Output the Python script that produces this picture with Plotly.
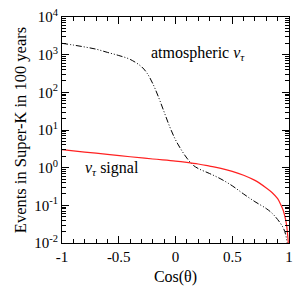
import plotly.graph_objects as go
import numpy as np

cos_atm = [-1.0, -0.9, -0.8, -0.7, -0.6, -0.5, -0.4, -0.3, -0.25, -0.2, -0.15, -0.1, -0.05, 0.0, 0.05, 0.1, 0.15, 0.2, 0.3, 0.4, 0.5, 0.6, 0.7, 0.8, 0.85, 0.9, 0.95, 0.97, 0.98, 0.99]
atm_vals = [2000, 1800, 1600, 1400, 1150, 950, 750, 480, 320, 170, 75, 30, 12, 5.5, 3.0, 1.8, 1.2, 0.95, 0.7, 0.5, 0.33, 0.2, 0.125, 0.082, 0.062, 0.042, 0.025, 0.017, 0.012, 0.008]

cos_sig = [-1.0, -0.8, -0.6, -0.4, -0.2, 0.0, 0.1, 0.2, 0.3, 0.4, 0.5, 0.6, 0.7, 0.8, 0.85, 0.9, 0.93, 0.95, 0.97, 0.98, 0.99, 0.995]
sig_vals = [3.0, 2.6, 2.25, 1.95, 1.7, 1.5, 1.38, 1.25, 1.1, 0.96, 0.8, 0.63, 0.46, 0.29, 0.22, 0.15, 0.1, 0.072, 0.042, 0.028, 0.014, 0.009]

ytick_vals = [1e-2, 1e-1, 1, 10, 100, 1000, 1e4]
ytick_text = ["10<sup>-2</sup>", "10<sup>-1</sup>", "10<sup>0</sup>", "10<sup>1</sup>", "10<sup>2</sup>", "10<sup>3</sup>", "10<sup>4</sup>"]
xtick_vals = [-1, -0.5, 0, 0.5, 1]
xtick_text = ["-1", "-0.5", "0", "0.5", "1"]

font = "Liberation Serif, DejaVu Serif, serif"

fig = go.Figure()
fig.add_trace(go.Scatter(x=cos_atm, y=atm_vals, mode="lines",
                         line=dict(color="black", width=1, dash="6px,2px,1px,2px,1px,2px", shape="spline"),
                         showlegend=False, hoverinfo="skip"))
fig.add_trace(go.Scatter(x=cos_sig, y=sig_vals, mode="lines",
                         line=dict(color="#ff2020", width=1.2, shape="spline"),
                         showlegend=False, hoverinfo="skip"))

minor_y = [m * 10.0**e for e in range(-2, 4) for m in range(2, 10)]
minor_x = [round(v, 1) for v in np.arange(-1, 1.0001, 0.1)]

axis_common = dict(ticks="inside", ticklen=7, tickwidth=1, tickcolor="black", mirror="allticks",
                   showline=True, linecolor="black", linewidth=1, showgrid=False, zeroline=False,
                   tickfont=dict(size=15), fixedrange=True)

fig.update_layout(
    width=300, height=289,
    margin=dict(l=62, r=7, t=13, b=46),
    paper_bgcolor="white", plot_bgcolor="white",
    font=dict(family=font, size=15, color="black"),
    xaxis=dict(range=[-1, 1], tickmode="array", tickvals=xtick_vals, ticktext=xtick_text,
               minor=dict(tickmode="array", tickvals=minor_x, ticks="inside", ticklen=4, tickwidth=1, tickcolor="black"),
               title=dict(text="Cos(θ)", standoff=6, font=dict(size=16)), **axis_common),
    yaxis=dict(type="log", range=[-2, 4], tickmode="array", tickvals=ytick_vals, ticktext=ytick_text,
               minor=dict(tickmode="array", tickvals=minor_y, ticks="inside", ticklen=4, tickwidth=1, tickcolor="black"),
               title=dict(text="Events in Super-K in 100 years", standoff=3, font=dict(size=16.5)),
               **axis_common),
    annotations=[
        dict(x=0.20, y=np.log10(1050), xref="x", yref="y", text="atmospheric <i>ν</i><sub><i>τ</i></sub>",
             showarrow=False, xanchor="center", yanchor="middle", font=dict(size=16)),
        dict(x=-0.56, y=np.log10(0.95), xref="x", yref="y", text="<i>ν</i><sub><i>τ</i></sub> signal",
             showarrow=False, xanchor="center", yanchor="middle", font=dict(size=16)),
    ],
)

fig.write_html("out.html", config={"displayModeBar": False},
               post_script="document.body.style.margin='0';document.body.style.overflow='hidden';")
